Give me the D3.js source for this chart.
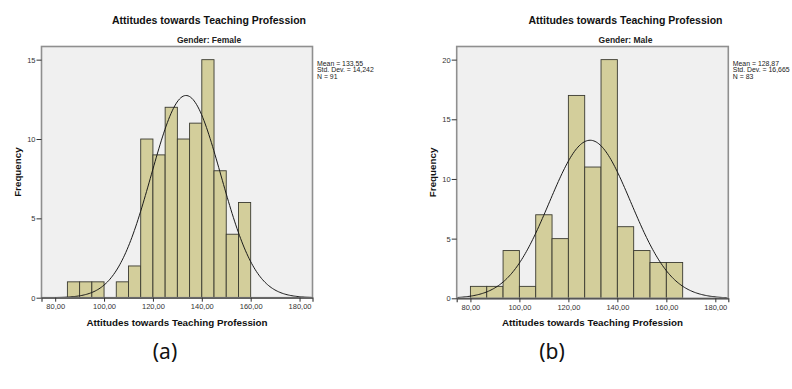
<!DOCTYPE html>
<html><head><meta charset="utf-8">
<script src="https://cdn.jsdelivr.net/npm/d3@7"></script>
<style>body{margin:0;background:#fff}svg{display:block}</style>
</head><body>
<script>
// ---- data ----
const chartTitle = "Attitudes towards Teaching Profession";
const xLabel = "Attitudes towards Teaching Profession";
const yLabel = "Frequency";
const xTicks = [80, 100, 120, 140, 160, 180];

const femaleBinStarts = [85, 90, 95, 100, 105, 110, 115, 120, 125, 130, 135, 140, 145, 150, 155];
const femaleCounts    = [1, 1, 1, 0, 1, 2, 10, 9, 12, 10, 11, 15, 8, 4, 6];
const femaleBinWidth = 5;
const femaleYTicks = [0, 5, 10, 15];
const femaleStats = {mean: 133.55, sd: 14.242, n: 91};
const femaleStatLabels = ["Mean = 133,55", "Std. Dev. = 14,242", "N = 91"];

const maleBinStarts = [80, 86.667, 93.333, 100, 106.667, 113.333, 120, 126.667, 133.333, 140, 146.667, 153.333, 160];
const maleCounts    = [1, 1, 4, 1, 7, 5, 17, 11, 20, 6, 4, 3, 3];
const maleBinWidth = 20 / 3;
const maleYTicks = [0, 5, 10, 15, 20];
const maleStats = {mean: 128.87, sd: 16.665, n: 83};
const maleStatLabels = ["Mean = 128,87", "Std. Dev. = 16,665", "N = 83"];

const panels = [
  {sub: "Gender: Female", starts: femaleBinStarts, counts: femaleCounts, bw: femaleBinWidth,
   yTicks: femaleYTicks, yMax: 15.83, stats: femaleStats, statLabels: femaleStatLabels,
   x0: 41.5, x1: 312.5, y0: 46.5, y1: 297.7, titleX: 209, tag: "(a)", tagX: 165},
  {sub: "Gender: Male", starts: maleBinStarts, counts: maleCounts, bw: maleBinWidth,
   yTicks: maleYTicks, yMax: 21.1, stats: maleStats, statLabels: maleStatLabels,
   x0: 456.7, x1: 728.3, y0: 46.5, y1: 298.3, titleX: 625.5, tag: "(b)", tagX: 552}
];

const W = 792, H = 389;
const svg = d3.select("body").append("svg").attr("width", W).attr("height", H);
const FONT = "'Liberation Sans', Arial, sans-serif";

panels.forEach((p, i) => {
  const g = svg.append("g");
  const x = d3.scaleLinear().domain([74.4, 185.3]).range([p.x0, p.x1]);
  const y = d3.scaleLinear().domain([0, p.yMax]).range([p.y1, p.y0]);

  // titles
  g.append("text").attr("x", p.titleX).attr("y", 24).attr("text-anchor", "middle")
    .attr("font-family", FONT).attr("font-weight", "bold").attr("font-size", 10.5)
    .attr("fill", "#111").text(chartTitle);
  g.append("text").attr("x", p.titleX).attr("y", 42.5).attr("text-anchor", "middle")
    .attr("font-family", FONT).attr("font-weight", "bold").attr("font-size", 8.5)
    .attr("fill", "#222").text(p.sub);

  // plot background
  g.append("rect").attr("x", p.x0).attr("y", p.y0).attr("width", p.x1 - p.x0).attr("height", p.y1 - p.y0)
    .attr("fill", "#f0f0f0");

  const clipId = "clip" + i;
  svg.append("clipPath").attr("id", clipId).append("rect")
    .attr("x", p.x0).attr("y", p.y0).attr("width", p.x1 - p.x0).attr("height", p.y1 - p.y0);

  // bars
  const bins = p.starts.map((s, k) => ({s, c: p.counts[k]})).filter(d => d.c > 0);
  g.selectAll("rect.bar").data(bins).enter().append("rect").attr("class", "bar")
    .attr("x", d => x(d.s)).attr("width", d => x(d.s + p.bw) - x(d.s))
    .attr("y", d => y(d.c)).attr("height", d => y(0) - y(d.c))
    .attr("fill", "#d3ce9b").attr("stroke", "#3a3a30").attr("stroke-width", 0.9);

  // normal curve
  const {mean, sd, n} = p.stats;
  const xs = d3.range(74.4, 185.31, 0.5);
  const pdf = v => n * p.bw * Math.exp(-0.5 * ((v - mean) / sd) ** 2) / (sd * Math.sqrt(2 * Math.PI));
  g.append("path").datum(xs).attr("clip-path", `url(#${clipId})`)
    .attr("d", d3.line().x(v => x(v)).y(v => y(pdf(v))).curve(d3.curveBasis))
    .attr("fill", "none").attr("stroke", "#1a1a1a").attr("stroke-width", 1);

  // frame
  g.append("rect").attr("x", p.x0).attr("y", p.y0).attr("width", p.x1 - p.x0).attr("height", p.y1 - p.y0)
    .attr("fill", "none").attr("stroke", "#8f8f8f").attr("stroke-width", 1.6);

  // axes
  const xa = g.append("g").attr("transform", `translate(0,${p.y1})`)
    .call(d3.axisBottom(x).tickValues(xTicks).tickSize(4).tickPadding(2)
      .tickFormat(d => d3.format(".2f")(d).replace(".", ",")));
  xa.select(".domain").attr("stroke", "#444").attr("stroke-width", 1.2);
  xa.selectAll(".tick line").attr("stroke", "#333");
  xa.selectAll("text").attr("font-family", FONT).attr("font-size", 7.5).attr("fill", "#333");

  const ya = g.append("g").attr("transform", `translate(${p.x0},0)`)
    .call(d3.axisLeft(y).tickValues(p.yTicks).tickSize(5).tickPadding(1).tickFormat(d3.format("d")));
  ya.select(".domain").remove();
  ya.selectAll(".tick line").attr("stroke", "#333");
  ya.selectAll("text").attr("font-family", FONT).attr("font-size", 7.5).attr("fill", "#333");

  // axis labels
  g.append("text").attr("x", (p.x0 + p.x1) / 2).attr("y", 326).attr("text-anchor", "middle")
    .attr("font-family", FONT).attr("font-weight", "bold").attr("font-size", 9.8)
    .attr("fill", "#111").text(xLabel);
  g.append("text").attr("transform", `translate(${p.x0 - 20.5},${(p.y0 + p.y1) / 2}) rotate(-90)`)
    .attr("text-anchor", "middle").attr("font-family", FONT).attr("font-weight", "bold")
    .attr("font-size", 9.8).attr("fill", "#111").text(yLabel);

  // stats
  p.statLabels.forEach((t, k) => {
    g.append("text").attr("x", p.x1 + 4.5).attr("y", 65.5 + k * 6.8)
      .attr("font-family", FONT).attr("font-size", 6.9).attr("fill", "#222").text(t);
  });

  // panel tag
  svg.append("text").attr("x", p.tagX).attr("y", 359).attr("text-anchor", "middle")
    .attr("font-family", "'Noto Sans', sans-serif").attr("font-size", 21).attr("fill", "#111")
    .text(p.tag);
});
</script>
</body></html>
